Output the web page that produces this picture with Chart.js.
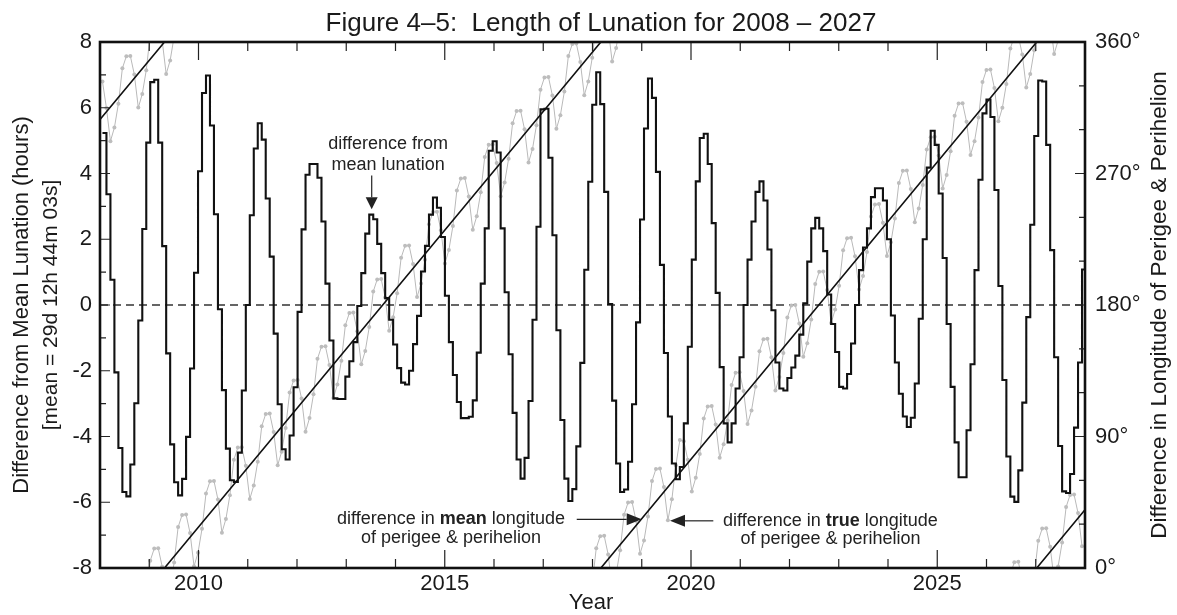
<!DOCTYPE html>
<html><head><meta charset="utf-8">
<script src="https://cdn.jsdelivr.net/npm/chart.js@4.4.1/dist/chart.umd.min.js"></script>
<style>html,body{margin:0;padding:0;background:#fff;}#wrap{width:1177px;height:615px;}</style>
</head><body><div id="wrap"><canvas id="c" width="1177" height="615"></canvas></div>
<script>
// ---- tick labels ----
const yearTicks = [2010, 2015, 2020, 2025];
const hourTicks = [-8, -6, -4, -2, 0, 2, 4, 6, 8];
const degTicks = [0, 90, 180, 270, 360];

// ---- lunations (start of first plotted lunation, length in years) ----
const firstNewMoon = 2008.05;
const synodicYears = 0.080852;

// difference of each lunation from the mean lunation (hours)
const lunationHours = [
 5.23, 3.37, 0.77, -2.05, -4.35, -5.69, -5.82, -4.85, -2.99, -0.47,
 2.31, 4.94, 6.78, 6.85, 4.94, 1.79, -1.47, -4.24, -5.39, -5.79,
 -5.29, -4.01, -1.93, 0.98, 4.07, 6.45, 6.98, 5.46, 2.76, -0.13,
 -2.59, -4.37, -5.33, -5.38, -4.49, -2.6, 0.0, 2.73, 4.76, 5.53,
 5.03, 3.24, 1.47, -0.87, -3.02, -4.39, -4.7, -3.97, -2.5, -0.21,
 2.3, 3.96, 4.29, 4.29, 3.87, 2.54, 0.65, -1.08, -2.84, -2.86,
 -2.86, -2.18, -1.71, -1.13, -0.03, 0.97, 2.17, 2.75, 2.61, 1.86,
 0.97, 0.21, -0.45, -1.2, -1.92, -2.36, -2.42, -2.0, -1.19, -0.33,
 1.02, 1.8, 2.75, 3.27, 2.96, 2.07, 0.28, -1.13, -2.13, -2.95,
 -3.44, -3.44, -3.4, -2.9, -1.45, 0.65, 2.33, 4.69, 4.98, 4.64,
 2.33, 0.39, -1.5, -3.28, -4.7, -5.28, -4.65, -2.92, -0.45, 2.38,
 5.95, 5.97, 4.48, 2.12, -0.77, -3.5, -5.28, -5.96, -5.6, -4.3,
 -1.76, 1.07, 3.75, 6.09, 7.08, 6.11, 3.44, 0.03, -2.91, -4.82,
 -5.69, -5.61, -4.77, -3.02, -0.53, 2.6, 5.37, 6.89, 6.3, 4.05,
 1.22, -1.46, -3.39, -4.82, -5.3, -4.93, -3.6, -1.27, 1.38, 3.76,
 5.08, 5.21, 4.29, 2.49, 0.37, -1.89, -3.6, -4.18, -3.6, -2.54,
 -1.59, 0.0, 1.38, 2.54, 3.44, 3.76, 3.18, 1.69, -0.16, -1.75,
 -2.54, -2.6, -2.22, -1.9, -1.54, -0.9, 0.05, 1.32, 2.33, 2.65,
 2.33, 1.64, 0.32, -0.58, -1.43, -2.49, -2.54, -2.1, -1.17, 0.0,
 1.06, 1.75, 2.33, 3.28, 3.55, 3.55, 3.18, 2.0, -0.32, -1.75,
 -2.7, -3.39, -3.71, -3.43, -2.39, -0.42, 2.0, 4.18, 5.3, 4.87,
 3.39, 1.43, -0.58, -2.49, -4.18, -5.24, -5.24, -3.81, -1.8, 1.06,
 3.81, 5.83, 6.25, 5.72, 3.5, 0.58, -2.28, -4.61, -5.83, -5.99,
 -5.03, -2.97, -0.37, 2.44, 5.14, 6.83, 6.8, 4.87, 1.67, -1.59,
 -4.29, -5.67, -5.72, -5.14, -3.73, -1.75, 1.08
];

// difference in TRUE longitude of perigee & perihelion at each new moon (degrees)
const trueLongitudeDeg = [
 333, 314.8, 292.1, 301.4, 317.7, 342, 350.2, 350.5, 337.8, 315.1,
 324.4, 340.7, 5, 13.3, 13.6, 0.9, 338.1, 347.4, 3.7, 28,
 36.3, 36.6, 23.9, 1.2, 10.5, 26.8, 51, 59.3, 59.6, 46.9,
 24.2, 33.5, 49.8, 74.1, 82.4, 82.7, 69.9, 47.2, 56.5, 72.8,
 97.1, 105.4, 105.7, 93, 70.3, 79.5, 95.8, 120.1, 128.4, 128.7,
 116, 93.3, 102.6, 118.9, 143.2, 151.5, 151.7, 139, 116.3, 125.6,
 141.9, 166.2, 174.5, 174.8, 162.1, 139.4, 148.6, 164.9, 189.2, 197.5,
 197.8, 185.1, 162.4, 171.7, 188, 212.3, 220.5, 220.8, 208.1, 185.4,
 194.7, 211, 235.3, 243.6, 243.9, 231.2, 208.4, 217.7, 234, 258.3,
 266.6, 266.9, 254.2, 231.5, 240.8, 257.1, 281.3, 289.6, 289.9, 277.2,
 254.5, 263.8, 280.1, 304.4, 312.7, 313, 300.2, 277.5, 286.8, 303.1,
 327.4, 335.7, 336, 323.3, 300.6, 309.9, 326.1, 350.4, 358.7, 359,
 346.3, 323.6, 332.9, 349.2, 13.5, 21.8, 22, 9.3, 346.6, 355.9,
 12.2, 36.5, 44.8, 45.1, 32.4, 9.7, 18.9, 35.2, 59.5, 67.8,
 68.1, 55.4, 32.7, 47, 70.3, 87.6, 86.8, 74.1, 52.4, 61.7,
 78, 102.3, 110.6, 110.9, 98.2, 75.5, 84.7, 101, 125.3, 133.6,
 133.9, 121.2, 98.5, 107.8, 124.1, 148.4, 156.6, 156.9, 144.2, 121.5,
 130.8, 147.1, 171.4, 179.7, 180, 167.3, 144.5, 153.8, 170.1, 194.4,
 202.7, 203, 190.3, 167.6, 176.9, 193.2, 217.4, 225.7, 226, 213.3,
 190.6, 199.9, 216.2, 240.5, 248.8, 249.1, 236.3, 213.6, 222.9, 239.2,
 263.5, 271.8, 272.1, 259.4, 236.7, 246, 262.2, 286.5, 294.8, 295.1,
 282.4, 259.7, 269, 285.3, 309.6, 317.9, 318.1, 305.4, 282.7, 292,
 308.3, 332.6, 340.9, 341.2, 328.5, 305.8, 315, 331.3, 355.6, 3.9,
 4.2, 351.5, 328.8, 338.1, 354.4, 18.7, 27, 27.2, 14.5, 351.8,
 1.1, 17.4, 41.7, 50, 50.3, 37.6, 14.9
];

// difference in MEAN longitude of perigee & perihelion: straight segments (year, degrees)
const meanLongYears = [[2008.0, 2009.31], [2009.31, 2018.17], [2018.17, 2027.02], [2027.02, 2028.0]];
const meanLongDeg   = [[307, 360], [0, 360], [0, 360], [0, 39.9]];

const FONT = '"Liberation Sans", Arial, Helvetica, sans-serif';

// ---- build datasets ----
const stepData = lunationHours.map((v, i) => ({x: firstNewMoon + i * synodicYears, y: v}));
stepData.push({x: firstNewMoon + lunationHours.length * synodicYears, y: lunationHours[lunationHours.length - 1]});

const greyData = [];
trueLongitudeDeg.forEach((d, i) => {
  const x = firstNewMoon + i * synodicYears;
  if (i > 0) {
    const p = trueLongitudeDeg[i - 1];
    const px = firstNewMoon + (i - 1) * synodicYears;
    if (d - p < -180) {
      greyData.push({x: x, y: d + 360, h: 1});
      greyData.push({x: x, y: null, h: 1});
      greyData.push({x: px, y: p - 360, h: 1});
    } else if (d - p > 180) {
      greyData.push({x: x, y: d - 360, h: 1});
      greyData.push({x: x, y: null, h: 1});
      greyData.push({x: px, y: p + 360, h: 1});
    }
  }
  greyData.push({x: x, y: d});
});

const meanData = [];
meanLongYears.forEach((seg, i) => {
  if (i > 0) meanData.push({x: seg[0], y: null});
  meanData.push({x: seg[0], y: meanLongDeg[i][0]});
  meanData.push({x: seg[1], y: meanLongDeg[i][1]});
});

// ---- annotations (anchored in data units) ----
const annotations = {
  lunation: {textYear: 2013.85, lines: [4.89, 4.27], arrowYear: 2013.517, arrowFrom: 3.94, arrowTip: 2.91},
  mean: {textYear: 2015.127, lines: [-6.52, -7.08], arrowFromYear: 2017.68, arrowTipYear: 2018.999, arrowAt: -6.52},
  truel: {textYear: 2022.832, lines: [-6.565, -7.125], arrowFromYear: 2020.453, arrowTipYear: 2019.574, arrowAt: -6.565}
};

function drawMixed(ctx, parts, cx, cy, size) {
  let w = 0;
  parts.forEach(p => { ctx.font = (p[1] ? 'bold ' : '') + size + 'px ' + FONT; w += ctx.measureText(p[0]).width; });
  let x = cx - w / 2;
  ctx.textAlign = 'left';
  parts.forEach(p => { ctx.font = (p[1] ? 'bold ' : '') + size + 'px ' + FONT; ctx.fillText(p[0], x, cy); x += ctx.measureText(p[0]).width; });
}

function hArrow(ctx, x0, tip, y) {
  const dir = tip > x0 ? 1 : -1;
  const head = 15;
  ctx.beginPath(); ctx.moveTo(x0, y); ctx.lineTo(tip - dir * head, y); ctx.stroke();
  ctx.beginPath(); ctx.moveTo(tip, y); ctx.lineTo(tip - dir * head, y - 6); ctx.lineTo(tip - dir * head, y + 6); ctx.closePath(); ctx.fill();
}

const decor = {
  id: 'decor',
  beforeDatasetsDraw(chart) {
    const {ctx, chartArea: a, scales: {y}} = chart;
    const y0 = y.getPixelForValue(0);
    ctx.save();
    ctx.strokeStyle = '#333'; ctx.lineWidth = 1.3; ctx.setLineDash([8, 5]);
    ctx.beginPath(); ctx.moveTo(a.left, y0); ctx.lineTo(a.right, y0); ctx.stroke();
    ctx.restore();
  },
  afterDatasetsDraw(chart) {
    const {ctx, chartArea: a, scales: {x, y, yR}} = chart;
    ctx.save();
    // inside tick marks
    ctx.strokeStyle = '#222'; ctx.lineWidth = 1.2;
    ctx.beginPath();
    for (let yr = 2009; yr <= 2027; yr++) {
      const px = x.getPixelForValue(yr);
      const len = yr % 5 === 0 ? 18 : 9;
      ctx.moveTo(px, a.bottom); ctx.lineTo(px, a.bottom - len);
      ctx.moveTo(px, a.top); ctx.lineTo(px, a.top + len);
    }
    for (let v = -7; v <= 7; v++) {
      const py = y.getPixelForValue(v);
      const len = v % 2 === 0 ? 10 : 6;
      ctx.moveTo(a.left, py); ctx.lineTo(a.left + len, py);
    }
    for (let d = 30; d <= 330; d += 30) {
      const py = yR.getPixelForValue(d);
      const len = d % 90 === 0 ? 10 : 6;
      ctx.moveTo(a.right, py); ctx.lineTo(a.right - len, py);
    }
    ctx.stroke();
    // frame
    ctx.strokeStyle = '#111'; ctx.lineWidth = 2.6;
    ctx.strokeRect(a.left, a.top, a.right - a.left, a.bottom - a.top);

    // annotations
    ctx.fillStyle = '#222'; ctx.strokeStyle = '#222'; ctx.lineWidth = 1.2;
    ctx.textBaseline = 'middle';
    const A = annotations.lunation;
    drawMixed(ctx, [['difference from', 0]], x.getPixelForValue(A.textYear), y.getPixelForValue(A.lines[0]), 18);
    drawMixed(ctx, [['mean lunation', 0]], x.getPixelForValue(A.textYear), y.getPixelForValue(A.lines[1]), 18);
    const ax = x.getPixelForValue(A.arrowYear), ay0 = y.getPixelForValue(A.arrowFrom), ay1 = y.getPixelForValue(A.arrowTip);
    ctx.beginPath(); ctx.moveTo(ax, ay0); ctx.lineTo(ax, ay1 - 12); ctx.stroke();
    ctx.beginPath(); ctx.moveTo(ax, ay1); ctx.lineTo(ax - 6, ay1 - 12); ctx.lineTo(ax + 6, ay1 - 12); ctx.closePath(); ctx.fill();

    const M = annotations.mean;
    drawMixed(ctx, [['difference in ', 0], ['mean', 1], [' longitude', 0]], x.getPixelForValue(M.textYear), y.getPixelForValue(M.lines[0]), 18);
    drawMixed(ctx, [['of perigee & perihelion', 0]], x.getPixelForValue(M.textYear), y.getPixelForValue(M.lines[1]), 18);
    hArrow(ctx, x.getPixelForValue(M.arrowFromYear), x.getPixelForValue(M.arrowTipYear), y.getPixelForValue(M.arrowAt));

    const T = annotations.truel;
    drawMixed(ctx, [['difference in ', 0], ['true', 1], [' longitude', 0]], x.getPixelForValue(T.textYear), y.getPixelForValue(T.lines[0]), 18);
    drawMixed(ctx, [['of perigee & perihelion', 0]], x.getPixelForValue(T.textYear), y.getPixelForValue(T.lines[1]), 18);
    hArrow(ctx, x.getPixelForValue(T.arrowFromYear), x.getPixelForValue(T.arrowTipYear), y.getPixelForValue(T.arrowAt));

    // titles
    ctx.fillStyle = '#1a1a1a';
    ctx.textAlign = 'center';
    ctx.textBaseline = 'alphabetic';
    ctx.font = '26px ' + FONT;
    ctx.fillText('Figure 4\u20135:  Length of Lunation for 2008 \u2013 2027', 601, 31);
    ctx.textBaseline = 'middle';
    ctx.font = '22px ' + FONT;
    ctx.fillText('Year', 591, 603);
    const cy = (a.top + a.bottom) / 2;
    ctx.save(); ctx.translate(22, cy); ctx.rotate(-Math.PI / 2);
    ctx.font = '22px ' + FONT; ctx.fillText('Difference from Mean Lunation (hours)', 0, 0); ctx.restore();
    ctx.save(); ctx.translate(51, cy); ctx.rotate(-Math.PI / 2);
    ctx.font = '21px ' + FONT; ctx.fillText('[mean = 29d 12h 44m 03s]', 0, 0); ctx.restore();
    ctx.save(); ctx.translate(1160, cy); ctx.rotate(-Math.PI / 2);
    ctx.font = '22.5px ' + FONT; ctx.fillText('Difference in Longitude of Perigee & Perihelion', 0, 0); ctx.restore();
    ctx.restore();
  }
};

const tickFont = {family: FONT, size: 22};
new Chart(document.getElementById('c'), {
  type: 'line',
  data: {
    datasets: [
      {label: 'difference from mean lunation', data: stepData, yAxisID: 'y', stepped: true,
       borderColor: '#111', borderWidth: 2.1, pointRadius: 0, fill: false},
      {label: 'difference in mean longitude', data: meanData, yAxisID: 'yR',
       borderColor: '#111', borderWidth: 1.6, pointRadius: 0, fill: false, spanGaps: false},
      {label: 'difference in true longitude', data: greyData, yAxisID: 'yR',
       borderColor: '#b9b9b9', borderWidth: 1, fill: false, spanGaps: false,
       pointRadius: c => (c.raw && c.raw.h) ? 0 : 2, pointBackgroundColor: '#bdbdbd', pointBorderWidth: 0}
    ]
  },
  options: {
    responsive: false, animation: false, devicePixelRatio: 1,
    layout: {padding: {top: 42, left: 0, right: 0, bottom: 0}, autoPadding: false},
    plugins: {legend: {display: false}, tooltip: {enabled: false}, title: {display: false}},
    scales: {
      x: {type: 'linear', min: 2008, max: 2028,
          afterBuildTicks: s => { s.ticks = yearTicks.map(v => ({value: v})); },
          afterFit: s => { s.height = 47; },
          grid: {display: false, drawTicks: false}, border: {display: false},
          ticks: {font: tickFont, color: '#1a1a1a', padding: 3, maxRotation: 0, autoSkip: false, callback: v => String(v)}},
      y: {type: 'linear', position: 'left', min: -8, max: 8,
          afterBuildTicks: s => { s.ticks = hourTicks.map(v => ({value: v})); },
          afterFit: s => { s.width = 100; },
          grid: {display: false, drawTicks: false}, border: {display: false},
          ticks: {font: tickFont, color: '#1a1a1a', padding: 8, callback: v => String(v)}},
      yR: {type: 'linear', position: 'right', min: 0, max: 360,
          afterBuildTicks: s => { s.ticks = degTicks.map(v => ({value: v})); },
          afterFit: s => { s.width = 92; },
          grid: {display: false, drawTicks: false}, border: {display: false},
          ticks: {font: tickFont, color: '#1a1a1a', padding: 10, callback: v => v + '\u00b0'}}
    }
  },
  plugins: [decor]
});
</script></body></html>
